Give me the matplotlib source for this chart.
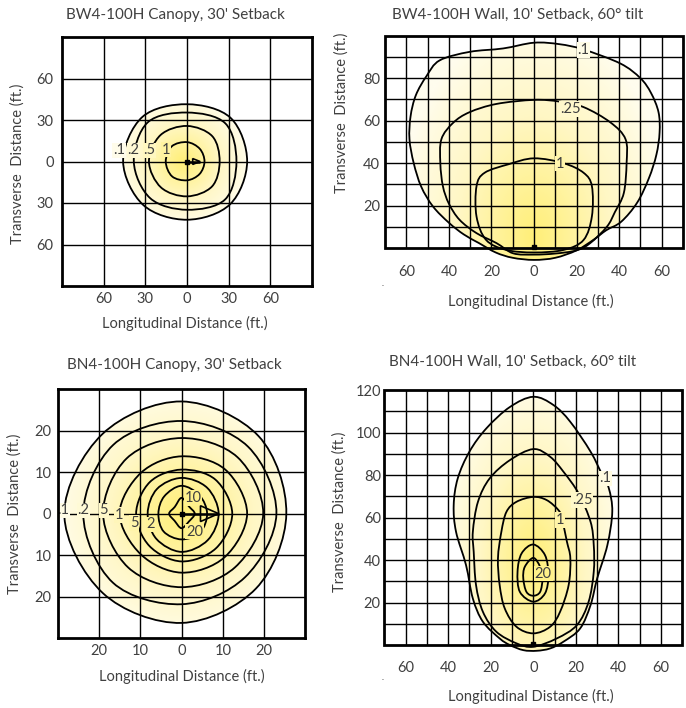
import numpy as np
import matplotlib
matplotlib.use("Agg")
import matplotlib.pyplot as plt
from matplotlib.path import Path
from matplotlib.patches import PathPatch, Polygon, Rectangle
from matplotlib.colors import LinearSegmentedColormap

plt.rcParams['font.family'] = ['Lato', 'DejaVu Sans']
TXT = '#404040'

# ---------------- datos (pies) ----------------
# BW4 canopy: radios de cada isolinea a 0,45,...,315 grados
bw_canopy_levels = ['.1', '.2', '.5', '1']
bw_canopy_radii = [
    [43.3, 44.5, 41.4, 45.5, 46.0, 44.5, 42.1, 43.8],
    [35.6, 39.0, 35.4, 40.0, 38.3, 37.5, 34.9, 38.8],
    [23.5, 25.8, 25.7, 27.0, 27.4, 26.5, 25.2, 25.5],
    [12.6, 13.0, 14.0, 15.5, 15.3, 15.2, 13.6, 12.8],
]
bw_canopy_label_x = [-49, -38.5, -27, -15]
bw_canopy_label_y = [8, 8, 8, 8.5]

# BN4 canopy
bn_canopy_levels = ['.1', '.2', '5', '1', '5', '2', '10', '20']
bn_canopy_radii = [
    [25.4, 26.4, 27.0, 27.1, 28.4, 27.0, 26.3, 25.5],
    [23.0, 22.8, 22.3, 23.4, 23.8, 23.5, 21.8, 21.7],
    [19.8, 19.2, 18.2, 18.8, 19.0, 18.3, 17.7, 18.3],
    [15.9, 15.0, 13.8, 13.9, 15.0, 13.9, 14.2, 14.8],
    [12.3, 11.6, 10.6, 10.8, 11.0, 11.0, 11.5, 11.8],
    [9.0, 8.8, 8.6, 8.4, 8.2, 8.6, 9.2, 9.0],
    [6.2, 6.2, 6.7, 5.9, 5.6, 6.1, 6.2, 6.4],
    [3.2, 2.5, 3.8, 2.3, 3.0, 2.4, 3.5, 2.6],
]
bn_canopy_label_x = [-28.6, -23.8, -18.8, -15.2, -11.5, -7.5, 2.8, 3.2]
bn_canopy_label_y = [0.8, 0.8, 0.8, -0.3, -2.2, -2.6, 3.8, -4.3]

# BW4 wall: isolineas .1, .25, 1
bw_wall_levels = ['.1', '.25', '1']
bw_wall_x = [
    [0, 12, 23.3, 40.6, 50, 55, 58.5, 59, 57.5, 54, 48.5, 41, 34, 28, 20, 10, 0,
     -10, -18, -26, -33, -40, -47.5, -53, -56.5, -58.5, -58, -55.5, -50.5, -44.3, -30.2, -14.5],
    [0, 12, 23.3, 35.9, 43, 43.5, 42.2, 38, 34.3, 26.4, 20, 10, 0, -9.8, -17.6, -27,
     -35, -40, -42.8, -44, -43.5, -38, -30.3, -17.6],
    [0, 13.9, 23.3, 27.2, 27.2, 23.3, 13.9, 0, -13, -22.5, -27, -27, -23.2, -12],
]
bw_wall_y = [
    [96.7, 96, 93.5, 86.9, 80, 73, 64, 54.5, 44, 33, 21.5, 12.5, 8.5, 4, -1, -4.5, -5.5,
     -4.5, -2, 2.5, 6.5, 12, 19.7, 29, 40, 51.3, 62, 72, 81, 88.4, 92.4, 94],
    [69.8, 69, 66.4, 59.2, 51.3, 40, 26, 17, 10.2, 2.4, -1, -2.5, -3, -2.4, 2.4, 7.1,
     13.4, 21, 29.2, 40, 51.3, 59, 64, 67.9],
    [42.3, 40, 35.5, 29.2, 15, 3.9, -0.8, -2, -0.8, 3.9, 14.9, 29.2, 35.5, 39.5],
]
bw_wall_label_x = [23.3, 17, 12.3]
bw_wall_label_y = [93.2, 65.5, 39.8]

# BN4 wall: isolineas .1, .25, 1, 5, 20
bn_wall_levels = ['.1', '.25', '1', '', '20']
bn_wall_x = [
    [0, 9.5, 17.4, 26.9, 32.4, 35.5, 37.1, 34.8, 30, 26.9, 22, 14.2, 7.9, 1.6, -4.7,
     -11, -15.8, -23.7, -28.4, -31.6, -36.3, -37.4, -35.5, -30, -22, -11],
    [0, 7.9, 14.2, 21.3, 26.9, 28.4, 28.4, 26, 20.5, 11, 0, -7.9, -17.4, -23.7, -26.9,
     -28, -28.4, -26, -20.5, -11],
    [0, 6.3, 11.8, 13.4, 15.8, 17.4, 16.6, 12.6, 7.9, 0, -7.9, -13.4, -15.8, -16.6,
     -15, -12.6, -7.9],
    [0, 5.5, 7.1, 5.5, 0, -6.3, -7.4, -5.5],
    [0, 3.2, 4.3, 3.2, 0, -3.2, -4.7, -4],
]
bn_wall_y = [
    [116.8, 112.9, 105, 91, 80, 73.7, 62.7, 47, 31.3, 18.8, 7.8, 1.6, -1.6, -2.7, -2.4,
     0, 3.1, 11, 21.9, 37.6, 53.3, 65.8, 78.4, 91, 102, 112],
    [92.2, 88.6, 81.5, 71.3, 58, 47, 34.5, 20.4, 9.4, 3.1, -0.8, 0.8, 6.3, 15.7, 28.2,
     43.9, 53.3, 67.4, 78.4, 87],
    [69.7, 68.2, 63.5, 59.6, 48.6, 40.8, 28.2, 15.7, 8.6, 5.5, 8.6, 17.2, 28.2, 40.8,
     53.3, 62.7, 67.4],
    [47.3, 42.3, 32.9, 24.3, 20.4, 25, 34.5, 43.1],
    [41, 36.8, 31.3, 25, 23.2, 25, 31.3, 36.8],
]
bn_wall_label_x = [34, 22.9, 12.6, None, 4.7]
bn_wall_label_y = [78.4, 68.2, 58.8, None, 33.6]

canopy_arrow = {'bw': (9.4, 4.1, 2.1), 'bn': (9.0, 4.6, 1.9)}   # punta, base, semialto

cmap = LinearSegmentedColormap.from_list('luz', ['#fffdee', '#fff7c4', '#ffef78'])

W, H = 686, 708
fig = plt.figure(figsize=(W / 100, H / 100), dpi=100)


def rect(l, t, r, b):
    return [l / W, 1 - b / H, (r - l) / W, (b - t) / H]


def fpos(x, y):
    return x / W, 1 - y / H


def smooth_path(xs, ys):
    P = np.column_stack([xs, ys]).astype(float)
    n = len(P)
    verts, codes = [P[0]], [Path.MOVETO]
    for i in range(n):
        p0, p1, p2, p3 = P[i - 1], P[i], P[(i + 1) % n], P[(i + 2) % n]
        verts += [p1 + (p2 - p0) / 6, p2 - (p3 - p1) / 6, p2]
        codes += [Path.CURVE4] * 3
    verts.append(P[0])
    codes.append(Path.CLOSEPOLY)
    return Path(verts, codes)


def polar_xy(radii):
    ang = np.deg2rad(np.arange(len(radii)) * 360 / len(radii))
    r = np.array(radii)
    return r * np.cos(ang), r * np.sin(ang)


def shade(ax, outer, xlim, ylim, cx, cy, sx, sy):
    gx = np.linspace(xlim[0], xlim[1], 400)
    gy = np.linspace(ylim[0], ylim[1], 400)
    X, Y = np.meshgrid(gx, gy)
    r = np.hypot((X - cx) / sx, (Y - cy) / sy)
    val = np.clip(1 - r, 0, 1) ** 0.85
    im = ax.imshow(val, cmap=cmap, vmin=0, vmax=1, origin='lower',
                   extent=[xlim[0], xlim[1], ylim[0], ylim[1]], aspect='auto',
                   interpolation='bilinear', zorder=1)
    im.set_clip_path(PathPatch(outer, transform=ax.transData))
    return lambda x, y: cmap(float(np.clip(1 - np.hypot((x - cx) / sx, (y - cy) / sy), 0, 1) ** 0.85))


def labels(ax, xs, ys, texts, color_at, fs=10.5):
    for x, y, s in zip(xs, ys, texts):
        if x is None or s == '':
            continue
        ax.text(x, y, s, ha='center', va='center', fontsize=fs, color=TXT, zorder=4,
                bbox=dict(boxstyle='square,pad=0.05', fc=color_at(x, y), ec='none'))


def arrow(ax, spec):
    tip, base, half = spec
    ax.plot([0, tip], [0, 0], color='black', lw=1.8, zorder=4, solid_capstyle='butt')
    ax.add_patch(Polygon([[base, half], [base, -half], [tip, 0]], closed=True,
                         fc='none', ec='black', lw=1.2, zorder=4))
    ax.plot([0], [0], marker='s', ms=3.5, color='black', zorder=4)


def canopy(ax, radii, lim, step, tick_labels, cx, cy, scale, lx, ly, texts, arr):
    ax.set_xlim(-lim, lim)
    ax.set_ylim(-lim, lim)
    paths = [smooth_path(*polar_xy(r)) for r in radii]
    color_at = shade(ax, paths[0], (-lim, lim), (-lim, lim), cx, cy, scale, scale)
    g = np.arange(-lim + step, lim, step)
    ax.vlines(g, -lim, lim, color='black', lw=1.0, zorder=2)
    ax.hlines(g, -lim, lim, color='black', lw=1.0, zorder=2)
    for p in paths:
        ax.add_patch(PathPatch(p, fc='none', ec='black', lw=1.3, zorder=3))
    labels(ax, lx, ly, texts, color_at)
    arrow(ax, arr)
    ticks = np.arange(-2 * step, 2 * step + 1, step)
    ax.set_xticks(ticks, tick_labels)
    ax.set_yticks(ticks, tick_labels)
    for s in ax.spines.values():
        s.set_linewidth(2.0)
        s.set_zorder(6)


def wall(ax, xs_list, ys_list, ytop, ybot, cx, cy, sx, sy, lx, ly, texts, yticks):
    ax.set_xlim(-70, 70)
    ax.set_ylim(ybot, ytop)
    paths = [smooth_path(x, y) for x, y in zip(xs_list, ys_list)]
    color_at = shade(ax, paths[0], (-70, 70), (ybot, ytop), cx, cy, sx, sy)
    ax.vlines(np.arange(-60, 61, 10), 0, ytop, color='black', lw=1.0, zorder=2)
    ax.hlines(np.arange(10, ytop, 10), -70, 70, color='black', lw=1.0, zorder=2)
    for p in paths:
        ax.add_patch(PathPatch(p, fc='none', ec='black', lw=1.3, zorder=3))
    labels(ax, lx, ly, texts, color_at)
    ax.add_patch(Rectangle((-70, 0), 140, ytop, fill=False, ec='black', lw=2.0,
                           zorder=6, clip_on=False))
    ax.plot([0], [0.6], marker='s', ms=3.5, color='black', zorder=5, clip_on=False)
    for s in ax.spines.values():
        s.set_visible(False)
    ax.set_xticks([-60, -40, -20, 0, 20, 40, 60], ['60', '40', '20', '0', '20', '40', '60'])
    ax.set_yticks(yticks, [str(v) for v in yticks])


# --- BW4 canopy ---
ax1 = fig.add_axes(rect(62, 37, 312, 286))
canopy(ax1, bw_canopy_radii, 90, 30, ['60', '30', '0', '30', '60'], -3, 0, 48,
       bw_canopy_label_x, bw_canopy_label_y, bw_canopy_levels, canopy_arrow['bw'])
ax1.tick_params(length=0, labelsize=10.5, labelcolor=TXT)
ax1.tick_params(axis='x', pad=4)
ax1.tick_params(axis='y', pad=6)

# --- BW4 wall ---
ax2 = fig.add_axes(rect(385, 35.7, 683, 263.1))
wall(ax2, bw_wall_x, bw_wall_y, 100, -7, 0, 5, 64, 102,
     bw_wall_label_x, bw_wall_label_y, bw_wall_levels, [20, 40, 60, 80])
ax2.tick_params(length=0, labelsize=10.5, labelcolor=TXT)
ax2.tick_params(axis='x', pad=1.5)
ax2.tick_params(axis='y', pad=3.5)

# --- BN4 canopy ---
ax3 = fig.add_axes(rect(57.7, 389, 305.3, 638.3))
canopy(ax3, bn_canopy_radii, 30, 10, ['20', '10', '0', '10', '20'], 0, 0, 31,
       bn_canopy_label_x, bn_canopy_label_y, bn_canopy_levels, canopy_arrow['bn'])
ax3.tick_params(length=0, labelsize=10.5, labelcolor=TXT)
ax3.tick_params(axis='x', pad=4)
ax3.tick_params(axis='y', pad=4.5)

# --- BN4 wall ---
ax4 = fig.add_axes(rect(384.3, 390, 682.3, 657.8))
wall(ax4, bn_wall_x, bn_wall_y, 120, -6, 0, 40, 44, 86,
     bn_wall_label_x, bn_wall_label_y, bn_wall_levels, [20, 40, 60, 80, 100, 120])
ax4.tick_params(length=0, labelsize=10.5, labelcolor=TXT)
ax4.tick_params(axis='x', pad=2.5)
ax4.tick_params(axis='y', pad=2.5)

# --- textos ---
titulos = [("BW4-100H Canopy, 30' Setback", 175, 15),
           ("BW4-100H Wall, 10' Setback, 60° tilt", 518, 15),
           ("BN4-100H Canopy, 30' Setback", 174, 365),
           ("BN4-100H Wall, 10' Setback, 60° tilt", 513, 362)]
for s, x, y in titulos:
    fig.text(*fpos(x, y), s, ha='center', va='center', fontsize=11, color=TXT)

for x, y in [(185, 323), (531, 301.7), (181.7, 676.7), (531, 696.7)]:
    fig.text(*fpos(x, y), 'Longitudinal Distance (ft.)', ha='center', va='center',
             fontsize=10.5, color=TXT)
for x, y in [(18, 164), (342, 113), (15, 514), (340, 512)]:
    fig.text(*fpos(x, y), 'Transverse  Distance (ft.)', ha='center', va='center',
             rotation=90, fontsize=10.5, color=TXT)
for x, y in [(383, 283), (383, 678)]:
    fig.text(*fpos(x, y), '.', ha='center', va='center', fontsize=6, color=TXT)

fig.savefig('out.png', dpi=100)
